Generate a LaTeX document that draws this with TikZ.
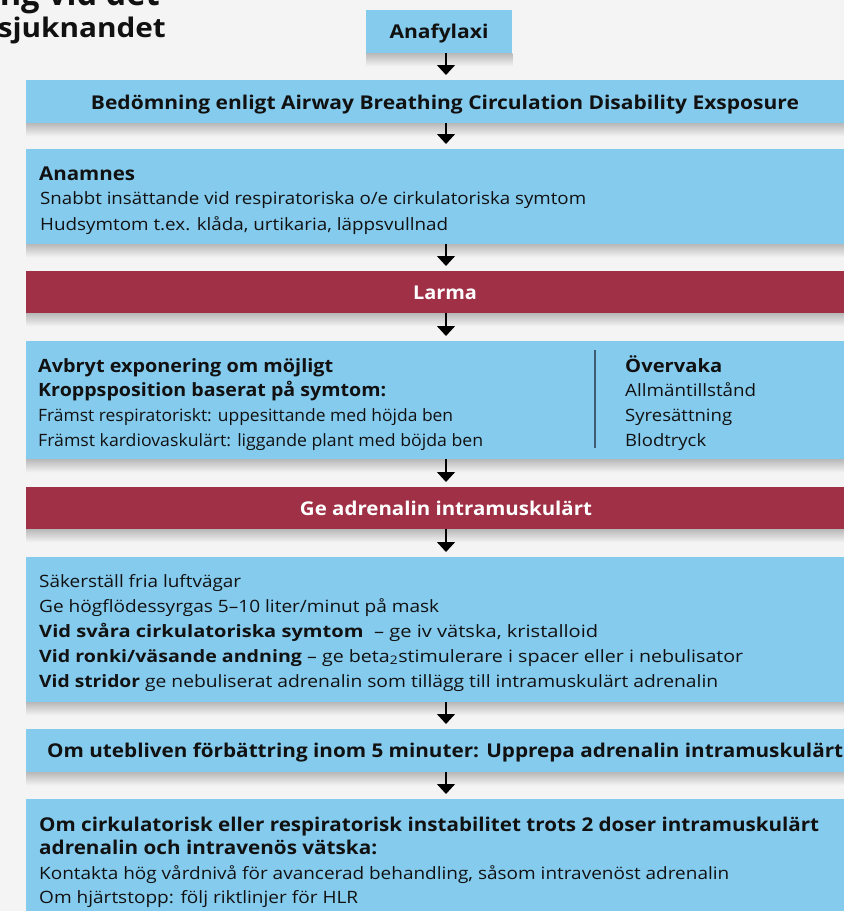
\documentclass[tikz,border=0pt]{standalone}
\usepackage{fontspec}
\setmainfont{Open Sans}
\usetikzlibrary{arrows.meta}
\definecolor{bg}{HTML}{F4F4F4}
\definecolor{boxblue}{HTML}{85CBEE}
\definecolor{boxred}{HTML}{A03046}
\definecolor{divider}{HTML}{3E5C73}
\definecolor{ink}{HTML}{111111}
\newcommand\fitw[2]{\resizebox{#1pt}{\height}{#2}}
\begin{document}
\begin{tikzpicture}[x=1pt,y=-1pt,
  bluebox/.style={rectangle, fill=boxblue, draw=none, inner sep=0pt, anchor=north west},
  redbox/.style={rectangle, fill=boxred, draw=none, inner sep=0pt, anchor=north west},
  hd/.style={font=\fontsize{19}{25}\selectfont\bfseries, text=ink, inner sep=0pt},
  hds/.style={font=\fontsize{18.3}{25}\selectfont\bfseries, text=ink, inner sep=0pt},
  hdw/.style={hd, text=white},
  bd/.style={font=\fontsize{17}{25}\selectfont, text=ink, inner sep=0pt},
  ttl/.style={font=\fontsize{27}{32}\selectfont\bfseries, text=ink, inner sep=0pt, anchor=base east},
  ttlbig/.style={ttl, font=\fontsize{35}{40}\selectfont\bfseries},
  shadowband/.style={top color=black!24!bg, bottom color=bg, draw=none},
  arr/.style={-{Triangle[width=18pt,length=10pt]}, line width=1.3pt, draw=black, shorten >=5pt}]
\fill[bg] (0,0) rectangle (844,911);
\useasboundingbox (0,0) rectangle (844,911);
\clip (0,0) rectangle (844,911);

% title fragments
\node[ttlbig] (ti1) at (160,5) {\fitw{160}{ng vid det}};
\node[ttl] (ti2) at (166,37) {\fitw{168}{sjuknandet}};

% boxes
\node[bluebox, minimum width=146pt, minimum height=43pt] (b1) at (366,10) {};
\node[bluebox, minimum width=840pt, minimum height=43pt] (b2) at (26,80) {};
\node[bluebox, minimum width=840pt, minimum height=95pt] (b3) at (26,149) {};
\node[redbox, minimum width=840pt, minimum height=42pt] (b4) at (26,271) {};
\node[bluebox, minimum width=840pt, minimum height=118pt] (b5) at (26,341) {};
\node[redbox, minimum width=840pt, minimum height=42pt] (b6) at (26,487) {};
\node[bluebox, minimum width=840pt, minimum height=145pt] (b7) at (26,557) {};
\node[bluebox, minimum width=840pt, minimum height=43pt] (b8) at (26,729) {};
\node[bluebox, minimum width=840pt, minimum height=130pt] (b9) at (26,799) {};

% shadows
\foreach \b in {b1,b2,b3,b4,b5,b6,b7,b8}{
  \shade[shadowband] (\b.south west) rectangle ([yshift=-13pt]\b.south east);
}

% divider in box 5
\draw[divider, line width=1.5pt] (595,350) -- (595,448);

% texts
\node[hd, anchor=base] (t1) at (439,38) {\fitw{99}{Anafylaxi}};
\node[hd, anchor=base] (t2) at (445,109) {\fitw{708}{Bedömning enligt Airway Breathing Circulation Disability Exsposure}};

\node[hd, anchor=base west] (t3a) at (39,180) {\fitw{96}{Anamnes}};
\node[bd, anchor=base west] (t3b) at (40,204) {\fitw{546}{Snabbt insättande vid respiratoriska o/e cirkulatoriska symtom}};
\node[bd, anchor=base west] (t3c) at (40,230) {\fitw{408}{Hudsymtom t.ex. klåda, urtikaria, läppsvullnad}};

\node[hdw, anchor=base] (t4) at (445,299) {\fitw{64}{Larma}};

\node[hds, anchor=base west] (t5a) at (38,372) {\fitw{295}{Avbryt exponering om möjligt}};
\node[hds, anchor=base west] (t5b) at (38,396) {\fitw{348}{Kroppsposition baserat på symtom:}};
\node[bd, anchor=base west] (t5c) at (38,421) {\fitw{415}{Främst respiratoriskt: uppesittande med höjda ben}};
\node[bd, anchor=base west] (t5d) at (38,446) {\fitw{445}{Främst kardiovaskulärt: liggande plant med böjda ben}};
\node[hds, anchor=base west] (t5e) at (625,372) {\fitw{97}{Övervaka}};
\node[bd, anchor=base west] (t5f) at (625,396) {\fitw{131}{Allmäntillstånd}};
\node[bd, anchor=base west] (t5g) at (625,421) {\fitw{107}{Syresättning}};
\node[bd, anchor=base west] (t5h) at (625,446) {\fitw{81}{Blodtryck}};

\node[hdw, anchor=base] (t6) at (446,515) {\fitw{292}{Ge adrenalin intramuskulärt}};

\node[bd, anchor=base west] (t7a) at (39,587) {\fitw{202}{Säkerställ fria luftvägar}};
\node[bd, anchor=base west] (t7b) at (39,612) {\fitw{400}{Ge högflödessyrgas 5–10 liter/minut på mask}};
\node[bd, anchor=base west] (t7c) at (39,637) {\fitw{559}{\textbf{Vid svåra cirkulatoriska symtom}\ \ – ge iv vätska, kristalloid}};
\node[bd, anchor=base west] (t7d) at (39,662) {\fitw{704}{\textbf{Vid ronki/väsande andning} – ge beta\textsubscript{2}stimulerare i spacer eller i nebulisator}};
\node[bd, anchor=base west] (t7e) at (39,687) {\fitw{679}{\textbf{Vid stridor} ge nebuliserat adrenalin som tillägg till intramuskulärt adrenalin}};

\node[hd, anchor=base west] (t8) at (47,757) {\fitw{796}{Om utebliven förbättring inom 5 minuter: Upprepa adrenalin intramuskulärt}};

\node[hd, anchor=base west] (t9a) at (39,831) {\fitw{780}{Om cirkulatorisk eller respiratorisk instabilitet trots 2 doser intramuskulärt}};
\node[hd, anchor=base west] (t9b) at (39,854) {\fitw{338}{adrenalin och intravenös vätska:}};
\node[bd, anchor=base west] (t9c) at (39,879) {\fitw{690}{Kontakta hög vårdnivå för avancerad behandling, såsom intravenöst adrenalin}};
\node[bd, anchor=base west] (t9d) at (39,903) {\fitw{319}{Om hjärtstopp: följ riktlinjer för HLR}};

% arrows
\coordinate (ax) at (446,0);
\draw[arr] (b1.south -| ax) -- (b2.north -| ax);
\draw[arr] (b2.south -| ax) -- (b3.north -| ax);
\draw[arr] (b3.south -| ax) -- (b4.north -| ax);
\draw[arr] (b4.south -| ax) -- (b5.north -| ax);
\draw[arr] (b5.south -| ax) -- (b6.north -| ax);
\draw[arr] (b6.south -| ax) -- (b7.north -| ax);
\draw[arr] (b7.south -| ax) -- (b8.north -| ax);
\draw[arr] (b8.south -| ax) -- (b9.north -| ax);
\end{tikzpicture}
\end{document}
